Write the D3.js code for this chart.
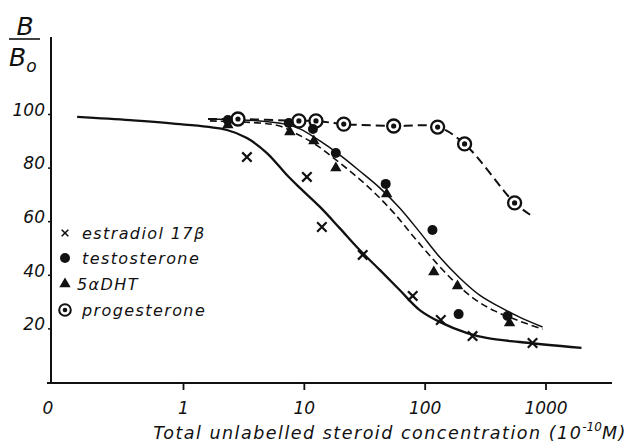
<!DOCTYPE html>
<html>
<head>
<meta charset="utf-8">
<script src="https://cdn.jsdelivr.net/npm/d3@7"></script>
<style>
  body { margin: 0; background: #fff; }
  svg { display: block; }
  text { font-family: "DejaVu Sans", sans-serif; font-style: italic; fill: #111; }
</style>
</head>
<body>
<svg id="chart" width="636" height="446"></svg>
<script>
// measured points (concentration in 10^-10 M, B/Bo in %)
const estradiolConc = [3.38, 10.6, 14.1, 30.7, 79.6, 136, 249, 781]
const estradiolVal = [84.3, 76.9, 58.2, 47.8, 32.5, 23.5, 17.5, 14.9]
const testoConc = [2.35, 7.5, 11.9, 18.4, 47.6, 116, 191, 485]
const testoVal = [98.1, 97.0, 94.8, 85.8, 74.3, 57.1, 25.7, 25.0]
const dhtConc = [2.35, 7.66, 12.1, 18.4, 48.5, 119, 187, 504]
const dhtVal = [96.3, 93.7, 90.3, 80.2, 70.5, 41.4, 36.2, 22.4]
const progConc = [2.85, 9.1, 12.6, 21.4, 55.4, 128, 214, 555]
const progVal = [98.5, 97.8, 97.8, 96.6, 95.9, 95.5, 89.2, 67.2]

// hand drawn curves
const estradiolFitConc = [0.133, 0.365, 0.944, 2.31, 3.38, 4.95, 7.24, 9.27, 13.6, 19.8, 29.0, 42.5, 62.1, 91.0, 133, 222, 325, 610, 1985]
const estradiolFitVal = [99.3, 98.1, 96.6, 94.4, 91.4, 85.8, 77.6, 72.8, 65.7, 57.8, 49.6, 42.2, 34.7, 27.2, 22.8, 18.7, 16.8, 15.3, 13.1]
const testoFitConc = [1.67, 4.33, 6.97, 9.27, 13.6, 19.8, 29.0, 42.5, 62.1, 91.0, 133, 195, 285, 417, 610, 945]
const testoFitVal = [98.5, 97.8, 96.6, 94.8, 90.3, 85.1, 79.1, 72.8, 65.3, 56.3, 47.0, 39.2, 32.8, 28.4, 24.6, 20.9]
const dhtFitConc = [1.67, 4.33, 6.33, 8.43, 12.3, 18.0, 26.4, 38.6, 56.5, 82.7, 121, 177, 259, 379, 610, 945]
const dhtFitVal = [97.8, 97.0, 95.9, 93.3, 89.2, 83.6, 77.6, 70.9, 63.1, 54.1, 45.5, 37.7, 31.3, 26.9, 23.1, 20.1]
const progFitConc = [1.61, 2.85, 9.1, 12.6, 21.4, 55.4, 128, 214, 555, 751]
const progFitVal = [98.5, 98.5, 97.8, 97.8, 96.6, 95.9, 95.5, 89.2, 67.2, 62.7]

const xTicks = [1, 10, 100, 1000]
const xZeroLabel = '0'
const yTicks = [20, 40, 60, 80, 100]
const legendLabels = ['estradiol 17\u03B2', 'testosterone', '5\u03B1DHT', 'progesterone']

const svg = d3.select('#chart')
const x = d3.scaleLog().domain([1, 1000]).range([183, 545.5])
const y = d3.scaleLinear().domain([0, 100]).range([383, 115])
const x0 = 51

const zip = (a, b) => a.map((c, i) => [c, b[i]])

// axes
svg.append('line')
  .attr('x1', x0).attr('x2', x0).attr('y1', 37).attr('y2', y(0) + 1)
  .attr('stroke', '#111').attr('stroke-width', 2)
svg.append('line')
  .attr('x1', 47).attr('x2', 612).attr('y1', y(0)).attr('y2', y(0))
  .attr('stroke', '#111').attr('stroke-width', 2)

const xAxis = svg.append('g')
  .attr('transform', `translate(0,${y(0)})`)
  .call(d3.axisBottom(x).tickValues(xTicks).tickSize(7).tickPadding(12).tickFormat(d3.format('d')))
xAxis.select('.domain').remove()
xAxis.selectAll('line').attr('stroke', '#111').attr('stroke-width', 1.8)
xAxis.selectAll('text').attr('font-size', 17).attr('font-family', null).attr('fill', null)
xAxis.append('text')
  .attr('x', 48).attr('y', 19).attr('dy', '0.71em')
  .attr('text-anchor', 'middle').attr('font-size', 17)
  .text(xZeroLabel)

const yAxis = svg.append('g')
  .attr('transform', `translate(${x0},0)`)
  .call(d3.axisLeft(y).tickValues(yTicks).tickSize(3).tickPadding(3))
yAxis.select('.domain').remove()
yAxis.selectAll('line').attr('stroke', '#111').attr('stroke-width', 1.5).attr('transform', 'translate(0,-1)')
yAxis.selectAll('text').attr('font-size', 17).attr('font-family', null).attr('fill', null)
  .attr('dy', '0.02em')

// B/Bo label
svg.append('text').attr('x', 25).attr('y', 35).attr('text-anchor', 'middle')
  .attr('font-size', 25).text('B')
svg.append('line').attr('x1', 9).attr('x2', 40).attr('y1', 39).attr('y2', 39)
  .attr('stroke', '#111').attr('stroke-width', 1.6)
const bo = svg.append('text').attr('x', 9).attr('y', 66).attr('font-size', 25)
bo.append('tspan').text('B')
bo.append('tspan').attr('font-size', 17).attr('dy', 6).text('o')

// axis title
const title = svg.append('text').attr('x', 390).attr('y', 439)
  .attr('text-anchor', 'middle').attr('font-size', 17.5).attr('letter-spacing', 1.5)
title.append('tspan').text('Total unlabelled steroid concentration (10')
title.append('tspan').attr('font-size', 12).attr('dy', -8).attr('letter-spacing', 0).text('-10')
title.append('tspan').attr('dy', 8).text('M)')

// curves
const line = d3.line()
  .x(d => x(d[0]))
  .y(d => y(d[1]))
  .curve(d3.curveCatmullRom.alpha(0.5))

svg.append('path').datum(zip(estradiolFitConc, estradiolFitVal))
  .attr('d', line).attr('fill', 'none').attr('stroke', '#111').attr('stroke-width', 2.3)
svg.append('path').datum(zip(testoFitConc, testoFitVal))
  .attr('d', line).attr('fill', 'none').attr('stroke', '#111').attr('stroke-width', 1.5)
svg.append('path').datum(zip(dhtFitConc, dhtFitVal))
  .attr('d', line).attr('fill', 'none').attr('stroke', '#111').attr('stroke-width', 1.6)
  .attr('stroke-dasharray', '7,4')
svg.append('path').datum(zip(progFitConc, progFitVal))
  .attr('d', line).attr('fill', 'none').attr('stroke', '#111').attr('stroke-width', 2)
  .attr('stroke-dasharray', '9,5')

// markers
function cross(g) {
  g.append('path').attr('d', d3.symbol(d3.symbolX, 60)())
    .attr('fill', 'none').attr('stroke', '#111').attr('stroke-width', 2.2)
}
function dot(g) {
  g.append('circle').attr('r', 5).attr('fill', '#111')
}
function tri(g) {
  g.append('path').attr('d', d3.symbol(d3.symbolTriangle, 56)()).attr('fill', '#111')
}
function ring(g) {
  g.append('circle').attr('r', 6.5).attr('fill', '#fff').attr('stroke', '#111').attr('stroke-width', 2.3)
  g.append('circle').attr('r', 2.6).attr('fill', '#111')
}

function drawSeries(conc, val, marker) {
  svg.append('g').selectAll('g')
    .data(zip(conc, val))
    .join('g')
    .attr('transform', d => `translate(${x(d[0])},${y(d[1])})`)
    .each(function() { marker(d3.select(this)) })
}

drawSeries(progConc, progVal, ring)
drawSeries(dhtConc, dhtVal, tri)
drawSeries(testoConc, testoVal, dot)
drawSeries(estradiolConc, estradiolVal, cross)

// legend
const legendMarkers = [cross, dot, tri, ring]
const legendY = [233, 258, 284, 310]
const legend = svg.append('g')
legendLabels.forEach((label, i) => {
  const g = legend.append('g').attr('transform', `translate(65,${legendY[i]})`)
  if (i === 0) {
    g.append('path').attr('d', d3.symbol(d3.symbolX, 30)())
      .attr('fill', 'none').attr('stroke', '#111').attr('stroke-width', 1.6)
  } else if (i === 3) {
    g.append('circle').attr('r', 5.8).attr('fill', '#fff').attr('stroke', '#111').attr('stroke-width', 2)
    g.append('circle').attr('r', 2.3).attr('fill', '#111')
  } else {
    legendMarkers[i](g)
  }
  g.append('text').attr('x', i === 2 ? 12 : 17).attr('y', 0).attr('dy', '0.35em')
    .attr('font-size', 16).attr('letter-spacing', 1.4).text(label)
})
</script>
</body>
</html>
